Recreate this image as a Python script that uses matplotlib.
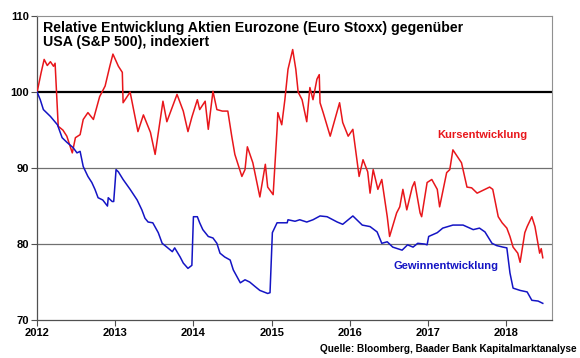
import numpy as np
import matplotlib
matplotlib.use('Agg')
import matplotlib.pyplot as plt

plt.rcParams['font.family'] = ['Liberation Sans', 'DejaVu Sans']
plt.rcParams['font.weight'] = 'bold'

# Kursentwicklung (red): (year, index)
kurs = [(2012.00, 100.0), (2012.05, 102.5), (2012.09, 104.3), (2012.13, 103.5), (2012.17, 104.0),
        (2012.21, 103.4), (2012.23, 103.8), (2012.27, 95.5), (2012.33, 95.0), (2012.38, 94.2),
        (2012.45, 92.0), (2012.49, 94.0), (2012.55, 94.4), (2012.59, 96.4), (2012.65, 97.3),
        (2012.72, 96.4), (2012.80, 99.4), (2012.87, 100.8), (2012.93, 103.4), (2012.97, 105.0),
        (2013.04, 103.4), (2013.09, 102.6), (2013.10, 98.6), (2013.19, 100.0), (2013.29, 94.8),
        (2013.36, 97.0), (2013.45, 94.7), (2013.51, 91.8), (2013.61, 98.8), (2013.66, 96.1),
        (2013.79, 99.7), (2013.87, 97.5), (2013.93, 94.8), (2013.98, 96.7), (2014.05, 99.0),
        (2014.08, 97.7), (2014.15, 98.8), (2014.19, 95.1), (2014.25, 100.1), (2014.30, 97.7),
        (2014.37, 97.5), (2014.44, 97.5), (2014.49, 94.2), (2014.53, 91.8), (2014.62, 88.9),
        (2014.66, 89.8), (2014.69, 92.8), (2014.76, 90.7), (2014.85, 86.2), (2014.92, 90.5),
        (2014.95, 87.5), (2015.02, 86.5), (2015.07, 95.1), (2015.08, 97.3), (2015.13, 95.7),
        (2015.17, 99.0), (2015.21, 103.0), (2015.27, 105.6), (2015.31, 103.0), (2015.34, 100.0),
        (2015.39, 99.0), (2015.45, 96.1), (2015.49, 100.6), (2015.53, 99.0), (2015.58, 101.7),
        (2015.61, 102.3), (2015.62, 98.6), (2015.66, 97.3), (2015.75, 94.2), (2015.81, 96.4),
        (2015.87, 98.6), (2015.91, 96.0), (2015.98, 94.2), (2016.04, 95.1), (2016.12, 88.9),
        (2016.17, 91.1), (2016.23, 89.5), (2016.26, 86.7), (2016.30, 89.8), (2016.36, 87.2),
        (2016.41, 88.5), (2016.48, 83.6), (2016.51, 81.0), (2016.60, 84.1), (2016.64, 84.9),
        (2016.68, 87.2), (2016.73, 84.5), (2016.80, 87.5), (2016.83, 88.2), (2016.90, 84.1),
        (2016.92, 83.6), (2016.99, 88.1), (2017.05, 88.5), (2017.12, 87.2), (2017.15, 84.9),
        (2017.24, 89.4), (2017.28, 89.8), (2017.32, 92.4), (2017.43, 90.7), (2017.50, 87.5),
        (2017.56, 87.4), (2017.63, 86.7), (2017.73, 87.2), (2017.79, 87.5), (2017.83, 87.2),
        (2017.90, 83.6), (2017.95, 82.8), (2018.01, 82.1), (2018.05, 81.0), (2018.09, 79.6),
        (2018.15, 78.8), (2018.18, 77.6), (2018.24, 81.5), (2018.27, 82.3), (2018.33, 83.6),
        (2018.37, 82.3), (2018.43, 78.8), (2018.45, 79.4), (2018.47, 78.2)]

# Gewinnentwicklung (blue)
gewinn = [(2012.00, 100.0), (2012.04, 99.0), (2012.08, 97.7), (2012.17, 96.8), (2012.26, 95.7),
          (2012.32, 94.0), (2012.38, 93.4), (2012.46, 92.7), (2012.51, 92.0), (2012.55, 92.2),
          (2012.59, 90.2), (2012.65, 88.9), (2012.70, 88.1), (2012.74, 87.2), (2012.78, 86.1),
          (2012.84, 85.8), (2012.90, 85.0), (2012.91, 86.1), (2012.96, 85.6), (2012.98, 85.6),
          (2013.01, 89.8), (2013.04, 89.5), (2013.10, 88.5), (2013.19, 87.2), (2013.28, 85.8),
          (2013.34, 84.5), (2013.38, 83.4), (2013.42, 82.9), (2013.48, 82.8), (2013.55, 81.5),
          (2013.60, 80.1), (2013.66, 79.6), (2013.73, 79.0), (2013.76, 79.5), (2013.83, 78.3),
          (2013.87, 77.5), (2013.93, 76.8), (2013.98, 77.2), (2014.00, 83.6), (2014.05, 83.6),
          (2014.08, 82.8), (2014.12, 81.9), (2014.19, 81.0), (2014.25, 80.8), (2014.30, 80.1),
          (2014.34, 78.8), (2014.40, 78.3), (2014.47, 77.9), (2014.51, 76.6), (2014.60, 74.9),
          (2014.66, 75.3), (2014.72, 75.0), (2014.79, 74.4), (2014.85, 73.9), (2014.95, 73.5),
          (2014.98, 73.6), (2015.01, 81.5), (2015.07, 82.8), (2015.20, 82.8), (2015.21, 83.2),
          (2015.30, 83.0), (2015.36, 83.2), (2015.45, 82.9), (2015.53, 83.2), (2015.62, 83.7),
          (2015.71, 83.6), (2015.84, 82.9), (2015.91, 82.6), (2016.04, 83.7), (2016.16, 82.5),
          (2016.26, 82.3), (2016.35, 81.6), (2016.41, 80.1), (2016.48, 80.3), (2016.55, 79.6),
          (2016.67, 79.2), (2016.74, 79.9), (2016.81, 79.6), (2016.87, 80.1), (2016.96, 80.0),
          (2016.99, 79.9), (2017.01, 81.0), (2017.12, 81.5), (2017.19, 82.1), (2017.32, 82.5),
          (2017.45, 82.5), (2017.58, 81.9), (2017.66, 82.1), (2017.73, 81.6), (2017.82, 80.1),
          (2017.88, 79.8), (2017.96, 79.6), (2018.01, 79.5), (2018.05, 76.2), (2018.09, 74.2),
          (2018.18, 73.9), (2018.27, 73.7), (2018.33, 72.6), (2018.41, 72.5), (2018.47, 72.2)]

years = [2012, 2013, 2014, 2015, 2016, 2017, 2018]
yticks = [70, 80, 90, 100, 110]

kurs_t, kurs_v = zip(*kurs)
gewinn_t, gewinn_v = zip(*gewinn)

fig = plt.figure(figsize=(5.8, 3.58), dpi=100)
ax = fig.add_axes([0.064, 0.106, 0.888, 0.849])

ax.axhline(100, color='black', lw=1.6, zorder=1)
for y in [80, 90]:
    ax.axhline(y, color='#707070', lw=0.9, zorder=1)

ax.plot(kurs_t, kurs_v, color='#e8161b', lw=1.1, zorder=3)
ax.plot(gewinn_t, gewinn_v, color='#1414c4', lw=1.1, zorder=3)

ax.set_xlim(2012, 2018.59)
ax.set_ylim(70, 110)
ax.set_xticks(years)
ax.set_xticklabels([str(y) for y in years], fontsize=8, fontweight='bold')
ax.set_yticks(yticks)
ax.set_yticklabels([str(y) for y in yticks], fontsize=8, fontweight='bold')
ax.tick_params(axis='both', direction='out', length=4, width=0.8, color='#505050', pad=2)

for s in ['left', 'bottom']:
    ax.spines[s].set_color('#505050')
    ax.spines[s].set_linewidth(0.9)
for s in ['top', 'right']:
    ax.spines[s].set_color('#909090')
    ax.spines[s].set_linewidth(0.8)

ax.text(0.012, 0.985, 'Relative Entwicklung Aktien Eurozone (Euro Stoxx) gegenüber\nUSA (S&P 500), indexiert',
        transform=ax.transAxes, ha='left', va='top', fontsize=10.2, fontweight='bold', linespacing=1.05)
ax.text(2017.12, 94.4, 'Kursentwicklung', color='#e8161b', fontsize=8, fontweight='bold', ha='left', va='center')
ax.text(2016.56, 77.1, 'Gewinnentwicklung', color='#1414c4', fontsize=8, fontweight='bold', ha='left', va='center')

fig.text(0.995, 0.012, 'Quelle: Bloomberg, Baader Bank Kapitalmarktanalyse', ha='right', va='bottom',
         fontsize=7.2, fontweight='bold')

fig.savefig('out.png', dpi=100)
